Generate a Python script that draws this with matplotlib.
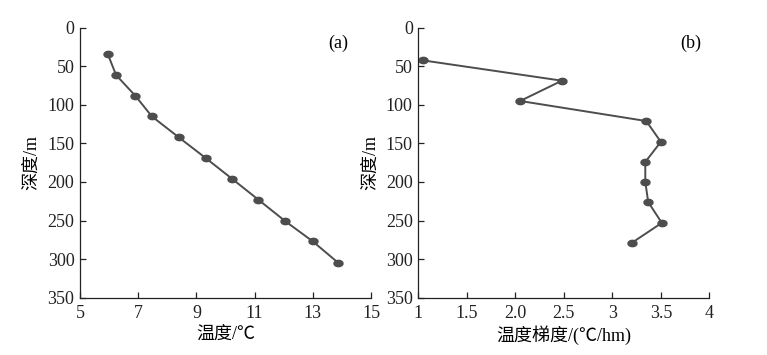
import matplotlib
matplotlib.use("Agg")
import matplotlib.pyplot as plt
import numpy as np
from matplotlib.path import Path

plt.rcParams['font.family'] = ['Liberation Serif', 'Noto Sans CJK SC']

temp_a = [5.95, 6.24, 6.90, 7.47, 8.39, 9.32, 10.23, 11.13, 12.06, 13.0, 13.88]
depth_a = [33.7, 61.4, 88.2, 115, 142, 169, 196, 223, 251, 277, 305]

grad_b = [1.05, 2.48, 2.05, 3.35, 3.50, 3.34, 3.34, 3.37, 3.51, 3.20]
depth_b = [42.4, 68.7, 95, 121, 148, 174, 200, 226, 253, 279]

xticks_a = [5, 7, 9, 11, 13, 15]
xticks_b = [1, 1.5, 2.0, 2.5, 3, 3.5, 4]
xticklabels_b = ['1', '1.5', '2.0', '2.5', '3', '3.5', '4']
yticks = [0, 50, 100, 150, 200, 250, 300, 350]

th = np.linspace(0, 2 * np.pi, 40)
ellipse = Path(np.column_stack([np.cos(th), 0.7 * np.sin(th)]))

fig = plt.figure(figsize=(7.67, 3.55), dpi=100)
ax1 = fig.add_axes([0.1043, 0.1614, 0.3794, 0.7606])
ax2 = fig.add_axes([0.5454, 0.1614, 0.3794, 0.7606])

col = '#4d4d4d'
fs = 13
for ax, x, y in ((ax1, temp_a, depth_a), (ax2, grad_b, depth_b)):
    ax.plot(x, y, color=col, lw=1.4, marker=ellipse, ms=6.5, mfc=col, mec=col)
    ax.set_ylim(350, 0)
    ax.set_yticks(yticks)
    ax.spines['top'].set_visible(False)
    ax.spines['right'].set_visible(False)
    for s in ('left', 'bottom'):
        ax.spines[s].set_color('#222222')
        ax.spines[s].set_linewidth(0.9)
    ax.tick_params(direction='in', length=4, width=0.9, labelsize=fs, colors='#222222')
    ax.tick_params(axis='x', pad=5)
    ax.tick_params(axis='y', pad=4)
    ax.set_ylabel('深度/m', fontsize=fs, labelpad=5)

ax1.set_xlim(5, 15)
ax1.set_xticks(xticks_a)
ax1.set_xlabel('温度/℃', fontsize=fs, labelpad=3)
ax1.text(13.87, 20, '(a)', fontsize=fs, ha='center', va='center')

ax2.set_xlim(1, 4)
ax2.set_xticks(xticks_b)
ax2.set_xticklabels(xticklabels_b)
ax2.set_xlabel('温度梯度/(℃/hm)', fontsize=fs, labelpad=3)
ax2.text(3.81, 20, '(b)', fontsize=fs, ha='center', va='center')

fig.savefig('out.png', dpi=100)
